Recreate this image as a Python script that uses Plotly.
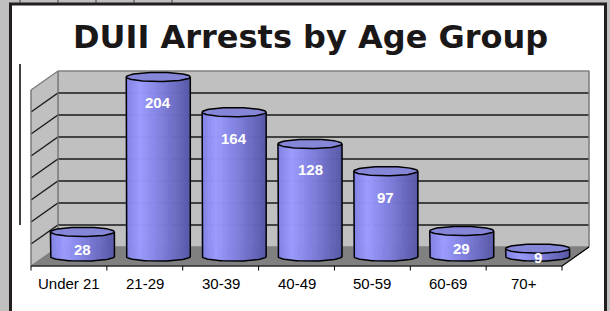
import numpy as np
import plotly.graph_objects as go

# ---------------- data ----------------
categories = ["Under 21", "21-29", "30-39", "40-49", "50-59", "60-69", "70+"]
arrests = [28, 204, 164, 128, 97, 29, 9]
value_ticks = [0, 25, 50, 75, 100, 125, 150, 175, 200]
title_text = "DUII Arrests by Age Group"

# ---------------- geometry ----------------
W, H = 610, 311
X0_PX, CAT_PX = 58.0, 75.86      # back-wall left edge, px per category
Y0_PX, UNIT_PX = 247.0, 0.88     # back-wall baseline, px per value unit
DX = 27.0 / CAT_PX               # depth offset (category units)
DY = 19.0 / UNIT_PX              # depth offset (value units)
RX = 32.0 / CAT_PX               # cylinder radius
RY = 4.6 / UNIT_PX               # ellipse half-height
NCAT = len(categories)
YMAX = value_ticks[-1]

xr = [-X0_PX / CAT_PX, (W - X0_PX) / CAT_PX]
yr = [-(H - Y0_PX) / UNIT_PX, Y0_PX / UNIT_PX]

WALL = "#c0c0c0"
FLOOR = "#808080"
EDGE = "#808080"

fig = go.Figure()


def poly(xs, ys, fill, line_color=None, lw=0):
    fig.add_trace(go.Scatter(
        x=list(xs) + [xs[0]], y=list(ys) + [ys[0]], mode="lines",
        fill="toself", fillcolor=fill,
        line=dict(color=line_color or fill, width=lw),
        hoverinfo="skip", showlegend=False))


def line(xs, ys, color, width):
    fig.add_trace(go.Scatter(x=xs, y=ys, mode="lines",
                             line=dict(color=color, width=width),
                             hoverinfo="skip", showlegend=False))


# back wall
poly([0, NCAT, NCAT, 0], [0, 0, YMAX, YMAX], WALL, EDGE, 1)
# side wall
poly([-DX, 0, 0, -DX], [-DY, 0, YMAX, YMAX - DY], WALL, EDGE, 1)
# floor
poly([-DX, NCAT - DX, NCAT, 0], [-DY, -DY, 0, 0], FLOOR, FLOOR, 1)

# gridlines
for t in value_ticks[1:-1]:
    line([-DX, 0, NCAT], [t - DY, t, t], "#1a1a1a", 1.3)
# wall edges
line([0, 0], [0, YMAX], EDGE, 1.2)
line([-DX, -DX], [-DY, YMAX - DY], EDGE, 1.2)
line([-DX, 0, NCAT, NCAT], [YMAX - DY, YMAX, YMAX, 0], EDGE, 1.2)
# floor front edge and right edge
line([-DX, NCAT - DX, NCAT], [-DY, -DY, 0], "#000000", 1.2)

# ticks on front edge
tx, ty = [], []
for k in range(NCAT + 1):
    tx += [k - DX, k - DX, None]
    ty += [-DY, -DY - 4.5 / UNIT_PX, None]
line(tx, ty, "#000000", 1)


# ---------------- cylinders ----------------
def grad(t):
    stops = [(0.0, (128, 128, 228)), (0.22, (156, 156, 255)),
             (0.5, (132, 132, 228)), (1.0, (88, 88, 168))]
    for (a, ca), (b, cb) in zip(stops[:-1], stops[1:]):
        if t <= b:
            f = (t - a) / (b - a)
            c = [round(ca[i] + (cb[i] - ca[i]) * f) for i in range(3)]
            return "rgb(%d,%d,%d)" % tuple(c)
    return "rgb(%d,%d,%d)" % stops[-1][1]


NS = 30
centers = [i + 0.5 - DX / 2 for i in range(NCAT)]
yb = -DY / 2

for j in range(NS):
    xs, ys = [], []
    for cx, v in zip(centers, arrests):
        yt = yb + v
        x0 = cx - RX + 2 * RX * j / NS
        x1 = cx - RX + 2 * RX * (j + 1) / NS
        s0 = np.sqrt(max(0.0, 1 - ((x0 - cx) / RX) ** 2))
        s1 = np.sqrt(max(0.0, 1 - ((x1 - cx) / RX) ** 2))
        xs += [x0, x1, x1, x0, x0, None]
        ys += [yt, yt, yb - RY * s1, yb - RY * s0, yt, None]
    c = grad((j + 0.5) / NS)
    fig.add_trace(go.Scatter(x=xs, y=ys, mode="lines", fill="toself",
                             fillcolor=c, line=dict(color=c, width=0.6),
                             hoverinfo="skip", showlegend=False))

th_bot = np.linspace(np.pi, 2 * np.pi, 40)
th_all = np.linspace(0, 2 * np.pi, 80)
for cx, v in zip(centers, arrests):
    yt = yb + v
    ox = [cx - RX] + list(cx + RX * np.cos(th_bot)) + [cx + RX]
    oy = [yt] + list(yb + RY * np.sin(th_bot)) + [yt]
    line(ox, oy, "#000000", 1.5)
    fig.add_trace(go.Scatter(
        x=cx + RX * np.cos(th_all), y=yt + RY * np.sin(th_all),
        mode="lines", fill="toself", fillcolor="rgb(134,134,216)",
        line=dict(color="#000000", width=1.5),
        hoverinfo="skip", showlegend=False))

annotations = []
for cx, v in zip(centers, arrests):
    h_px = v * UNIT_PX
    off_px = min(26.0, 0.5 * h_px + 5)
    annotations.append(dict(
        x=cx, y=yb + v - off_px / UNIT_PX, xref="x", yref="y",
        text=str(v), showarrow=False, xanchor="center", yanchor="middle",
        font=dict(family="Liberation Sans", size=15, color="white",
                  weight="bold")))

for k, lab in enumerate(categories):
    annotations.append(dict(
        x=k + 0.5 - DX, y=(Y0_PX - 283) / UNIT_PX, xref="x", yref="y",
        text=lab, showarrow=False, xanchor="center", yanchor="middle",
        font=dict(family="Liberation Sans", size=15, color="#000000")))

annotations.append(dict(
    x=310 / W, y=1 - 37 / H, xref="paper", yref="paper", text=title_text,
    showarrow=False, xanchor="center", yanchor="middle",
    font=dict(family="DejaVu Sans", size=32, color="#1a1718",
              weight="bold")))


# ---------------- frame (paper coords from px) ----------------
def px(x):
    return x / W


def py(y):
    return 1 - y / H


shapes = [
    dict(type="rect", xref="paper", yref="paper", x0=px(10.5), x1=px(605.5),
         y0=py(320), y1=py(4), fillcolor="white",
         line=dict(color="#231f20", width=3), layer="below"),
    dict(type="line", xref="paper", yref="paper", x0=px(20), x1=px(20),
         y0=py(64), y1=py(225), line=dict(color="#000000", width=1.5)),
]
for xx in [20, 58, 96, 134, 172]:
    shapes.append(dict(type="line", xref="paper", yref="paper", x0=px(xx),
                       x1=px(xx), y0=py(0), y1=py(3),
                       line=dict(color="#404040", width=1), layer="below"))

fig.update_layout(
    width=W, height=H, margin=dict(l=0, r=0, t=0, b=0),
    paper_bgcolor="#c0c0c0", plot_bgcolor="rgba(0,0,0,0)",
    xaxis=dict(range=xr, visible=False, fixedrange=True),
    yaxis=dict(range=yr, visible=False, fixedrange=True),
    shapes=shapes, annotations=annotations, showlegend=False,
)

fig.write_html(
    "out.html",
    config={"displayModeBar": False, "staticPlot": True},
    post_script="document.body.style.margin='0';"
                "document.body.style.overflow='hidden';",
)
